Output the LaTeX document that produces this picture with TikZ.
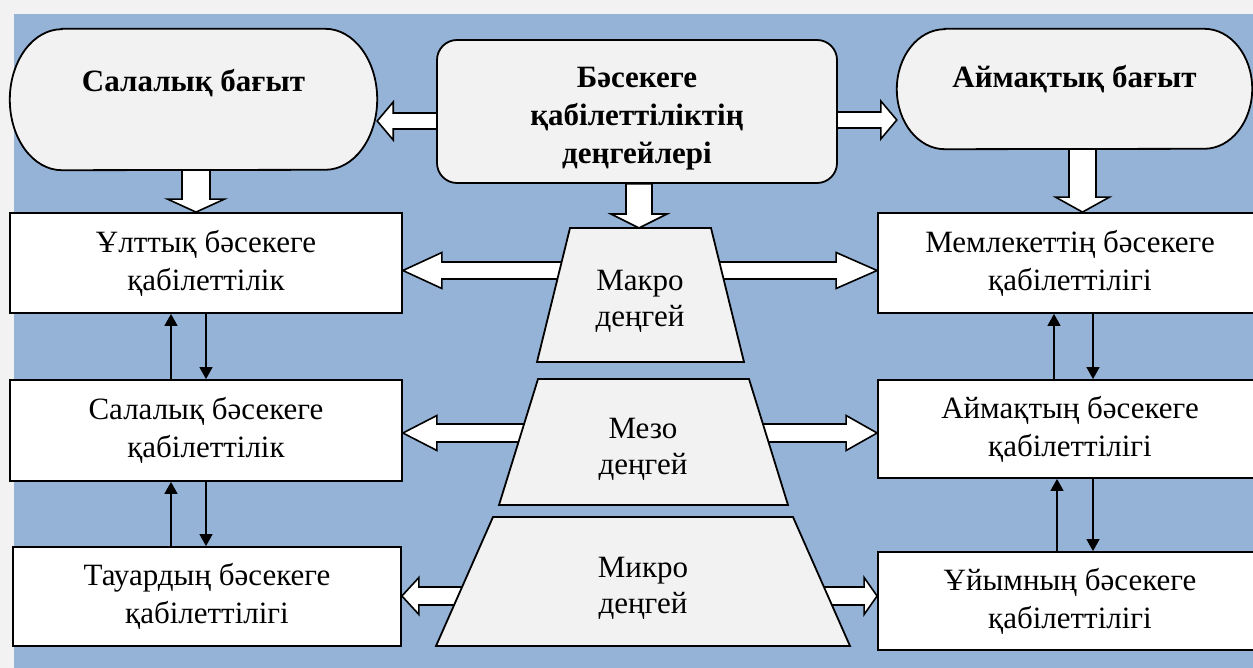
\documentclass[tikz,border=0pt]{standalone}
\usepackage{fontspec}
\setmainfont{Liberation Serif}
\usetikzlibrary{calc,arrows.meta,backgrounds}

\definecolor{bgblue}{HTML}{95B3D7}
\definecolor{bggrey}{HTML}{F2F2F2}
\definecolor{boxgrey}{HTML}{F2F2F2}

\tikzset{
  every node/.style={font=\fontsize{31}{38}\selectfont, align=center, inner sep=0pt},
  box/.style={draw, fill=white, line width=1.8pt},
  dirbox/.style={font=\fontsize{31}{37}\selectfont\bfseries},
  stad/.style={draw, fill=boxgrey, line width=1.8pt},
  lvl/.style={draw, fill=boxgrey, line width=1.8pt, line join=miter},
  hollow/.style={draw, fill=white, line width=1.6pt, line join=miter},
  link/.style={line width=1.4pt, -{Triangle[length=12pt,width=13pt]}},
}

% block arrow: start, tip, shaft half width, head half width, head length
\newcommand\fatarrow[5]{%
  \path #1 coordinate (fa-s) #2 coordinate (fa-t);
  \coordinate (fa-h) at ($(fa-t)!#5!(fa-s)$);
  \path[hollow] ($(fa-s)!#3!90:(fa-t)$) -- ($(fa-h)!#3!90:(fa-t)$) -- ($(fa-h)!#4!90:(fa-t)$)
    -- (fa-t) -- ($(fa-h)!#4!-90:(fa-t)$) -- ($(fa-h)!#3!-90:(fa-t)$) -- ($(fa-s)!#3!-90:(fa-t)$) -- cycle;}

\begin{document}
\begin{tikzpicture}[x=1pt,y=-1pt]
  \useasboundingbox (0,0) rectangle (1253,668);

  % directions and levels heading
  \node[dirbox, minimum width=367pt, minimum height=141pt, text height=22pt, text depth=37pt] (salb) at (193.5,99.5) {Салалық бағыт};
  \node[dirbox, minimum width=355pt, minimum height=120pt, text height=22pt, text depth=24pt] (aimb) at (1074.5,89) {Аймақтық бағыт};
  \node[lvl, dirbox, font=\fontsize{31}{38}\selectfont\bfseries, rounded corners=20pt, minimum width=400pt, minimum height=143pt] (cen) at (637,111.5) {\rule{0pt}{34pt}Бәсекеге\\қабілеттіліктің\\деңгейлері};

  % left column
  \node[box, minimum width=392pt, minimum height=100pt] (ult) at (206,263) {Ұлттық бәсекеге\\қабілеттілік};
  \node[box, minimum width=392pt, minimum height=101pt] (sal) at (206,430.5) {Салалық бәсекеге\\қабілеттілік};
  \node[box, minimum width=388pt, minimum height=99pt] (tau) at (207,596.5) {Тауардың бәсекеге\\қабілеттілігі};

  % right column
  \node[box, minimum width=384pt, minimum height=100pt] (mem) at (1070,263) {Мемлекеттің бәсекеге\\қабілеттілігі};
  \node[box, minimum width=384pt, minimum height=98pt] (aim) at (1070,429) {Аймақтың бәсекеге\\қабілеттілігі};
  \node[box, minimum width=384pt, minimum height=98pt] (uyi) at (1070,601) {Ұйымның бәсекеге\\қабілеттілігі};

  % levels
  \filldraw[lvl] (570,228) -- (711,228) -- (744,362) -- (537,362) -- cycle;
  \node[font=\fontsize{31}{36}\selectfont] (mac) at (640,301) {Макро\\деңгей};
  \filldraw[lvl] (538,379) -- (749,379) -- (788,505) -- (499,505) -- cycle;
  \node[font=\fontsize{31}{36}\selectfont] (mez) at (643,449) {Мезо\\деңгей};
  \filldraw[lvl] (493,517) -- (793,517) -- (850,646) -- (436,646) -- cycle;
  \node[font=\fontsize{31}{36}\selectfont] (mik) at (643,588) {Микро\\деңгей};
  \coordinate (mactop) at (639,228);
  \coordinate (maca) at (640,270.5);
  \coordinate (meza) at (643,433);
  \coordinate (mika) at (643,596);

  % two-way links
  \draw[link] ([xshift=-35pt]sal.north) -- ([xshift=-35pt]ult.south);
  \draw[link] (ult.south) -- (sal.north);
  \draw[link] ([xshift=-36pt]tau.north) -- ([xshift=-35pt]sal.south);
  \draw[link] (sal.south) -- (sal.south |- tau.north);
  \draw[link] ([xshift=-16pt]aim.north) -- ([xshift=-16pt]mem.south);
  \draw[link] ([xshift=23pt]mem.south) -- ([xshift=23pt]aim.north);
  \draw[link] ([xshift=-13pt]uyi.north) -- ([xshift=-13pt]aim.south);
  \draw[link] ([xshift=23pt]aim.south) -- ([xshift=23pt]uyi.north);

  \begin{scope}[on background layer]
    \fill[bggrey] (0,0) rectangle (1253,668);
    \fill[bgblue] (14,14) rectangle (1253,668);
    \path[stad] ([xshift=52pt]salb.north west) -- ([xshift=-52pt]salb.north east)
      arc[start angle=90, end angle=-90, x radius=52pt, y radius=70.5pt]
      -- ([xshift=52pt]salb.south west)
      arc[start angle=270, end angle=90, x radius=52pt, y radius=70.5pt] -- cycle;
    \path[stad] ([xshift=48pt]aimb.north west) -- ([xshift=-48pt]aimb.north east)
      arc[start angle=90, end angle=-90, x radius=48pt, y radius=60pt]
      -- ([xshift=48pt]aimb.south west)
      arc[start angle=270, end angle=90, x radius=48pt, y radius=60pt] -- cycle;

    \coordinate (cl) at ([xshift=4pt,yshift=-9.5pt]cen.west);
    \coordinate (cr) at ([xshift=-1pt,yshift=-8.5pt]cen.east);
    \coordinate (sd) at ([xshift=2.5pt]salb.south);
    \coordinate (cd) at ([xshift=2pt]cen.south);
    \coordinate (ad) at ([xshift=8pt]aimb.south);
    \fatarrow{(cl)}{(salb.east |- cl)}{8pt}{19pt}{16pt}
    \fatarrow{(cr)}{(aimb.west |- cr)}{8pt}{19pt}{16pt}
    \fatarrow{(sd)}{(ult.north -| sd)}{14pt}{28.5pt}{13pt}
    \fatarrow{(cd)}{(mactop)}{13pt}{28pt}{14pt}
    \fatarrow{(ad)}{(mem.north -| ad)}{13.5pt}{27pt}{15pt}
    \fatarrow{(maca)}{(ult.east |- maca)}{8.5pt}{18pt}{39pt}
    \fatarrow{(maca)}{(mem.west |- maca)}{8.5pt}{18pt}{41pt}
    \fatarrow{(meza)}{(sal.east |- meza)}{9pt}{17.5pt}{34pt}
    \fatarrow{(meza)}{(aim.west |- meza)}{9pt}{17.5pt}{31pt}
    \fatarrow{(mika)}{(tau.east |- mika)}{9pt}{18.5pt}{17pt}
    \fatarrow{(mika)}{(uyi.west |- mika)}{9pt}{18.5pt}{13pt}
  \end{scope}
\end{tikzpicture}
\end{document}
